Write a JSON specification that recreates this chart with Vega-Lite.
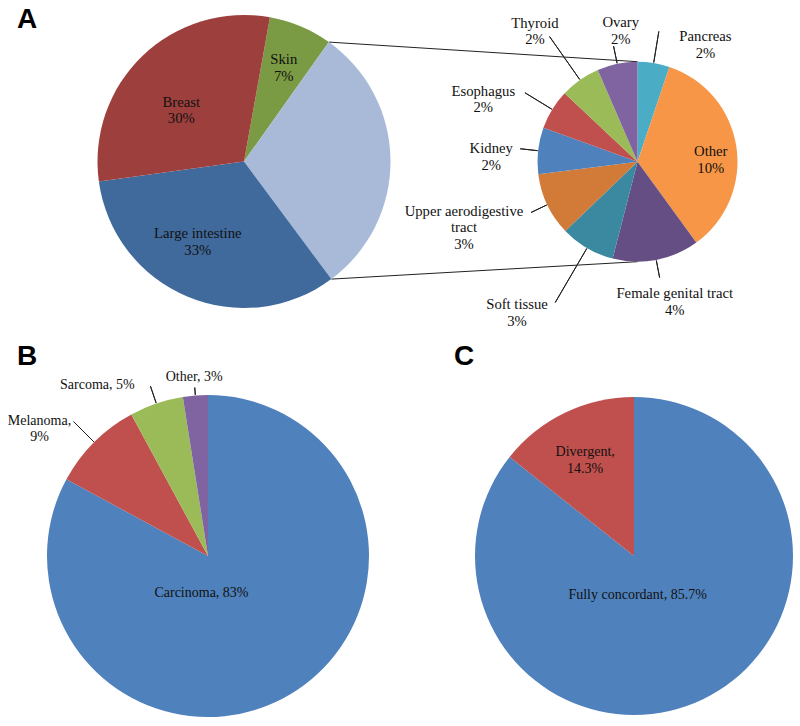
{
  "$schema": "https://vega.github.io/schema/vega-lite/v6.json",
  "padding": 0,
  "autosize": {"type": "pad"},
  "background": "white",
  "config": {"view": {"stroke": null}},
  "bounds": "flush",
  "spacing": 0,
  "vconcat": [
    {
      "width": 800,
      "height": 386,
      "resolve": {"scale": {"x": "independent", "y": "independent", "theta": "independent", "color": "independent"}},
      "layer": [
        {
          "data": {"values": [{}]},
          "mark": {"type": "rule", "color": "#222222", "strokeWidth": 1},
          "encoding": {
            "x": {"datum": 328.9, "type": "quantitative", "scale": {"domain": [0, 800], "nice": false, "zero": false}, "axis": null},
            "y": {"datum": 42.1, "type": "quantitative", "scale": {"domain": [0, 386], "nice": false, "zero": false, "reverse": true}, "axis": null},
            "x2": {"datum": 637.5},
            "y2": {"datum": 61.7}
          }
        },
        {
          "data": {"values": [{}]},
          "mark": {"type": "rule", "color": "#222222", "strokeWidth": 1},
          "encoding": {
            "x": {"datum": 331.3, "type": "quantitative", "scale": {"domain": [0, 800], "nice": false, "zero": false}, "axis": null},
            "y": {"datum": 279.1, "type": "quantitative", "scale": {"domain": [0, 386], "nice": false, "zero": false, "reverse": true}, "axis": null},
            "x2": {"datum": 637.5},
            "y2": {"datum": 261.7}
          }
        },
        {
          "data": {"values": [{}]},
          "mark": {"type": "text", "text": "A", "font": "Liberation Sans", "fontWeight": "bold", "fontSize": 28, "align": "left", "baseline": "alphabetic", "color": "#000000"},
          "encoding": {
            "x": {"datum": 17, "type": "quantitative", "scale": {"domain": [0, 800], "nice": false, "zero": false}, "axis": null},
            "y": {"datum": 28, "type": "quantitative", "scale": {"domain": [0, 386], "nice": false, "zero": false, "reverse": true}, "axis": null}
          }
        },
        {
          "data": {"values": [{}]},
          "mark": {"type": "text", "text": "B", "font": "Liberation Sans", "fontWeight": "bold", "fontSize": 28, "align": "left", "baseline": "alphabetic", "color": "#000000"},
          "encoding": {
            "x": {"datum": 17, "type": "quantitative", "scale": {"domain": [0, 800], "nice": false, "zero": false}, "axis": null},
            "y": {"datum": 364.5, "type": "quantitative", "scale": {"domain": [0, 386], "nice": false, "zero": false, "reverse": true}, "axis": null}
          }
        },
        {
          "data": {"values": [{}]},
          "mark": {"type": "text", "text": "C", "font": "Liberation Sans", "fontWeight": "bold", "fontSize": 28, "align": "left", "baseline": "alphabetic", "color": "#000000"},
          "encoding": {
            "x": {"datum": 454, "type": "quantitative", "scale": {"domain": [0, 800], "nice": false, "zero": false}, "axis": null},
            "y": {"datum": 365, "type": "quantitative", "scale": {"domain": [0, 386], "nice": false, "zero": false, "reverse": true}, "axis": null}
          }
        },
        {
          "data": {"values": [
            {"site": "Skin", "pct": 7, "label": "Skin\n7%", "ord": 1},
            {"site": "Other sites", "pct": 30, "label": "", "ord": 2},
            {"site": "Large intestine", "pct": 33, "label": "Large intestine\n33%", "ord": 3},
            {"site": "Breast", "pct": 30, "label": "Breast\n30%", "ord": 4}
          ]},
          "encoding": {
            "x": {"datum": "primary", "type": "nominal", "scale": {"type": "point", "domain": ["primary", "secondary"], "range": [244, 637.5], "padding": 0}, "axis": null},
            "y": {"datum": "primary", "type": "nominal", "scale": {"type": "point", "domain": ["primary", "secondary"], "range": [161.5, 161.7], "padding": 0}, "axis": null},
            "theta": {"field": "pct", "type": "quantitative", "stack": true, "scale": {"domain": [0, 100], "range": [0.17802, 6.46121]}},
            "order": {"field": "ord", "type": "quantitative"}
          },
          "layer": [
            {
              "mark": {"type": "arc", "outerRadius": 146.5},
              "encoding": {"color": {"field": "site", "type": "nominal", "scale": {"domain": ["Skin", "Other sites", "Large intestine", "Breast"], "range": ["#7A9A44", "#A9BAD9", "#40699C", "#9D403D"]}, "legend": null}}
            },
            {
              "mark": {"type": "text", "clip": true, "font": "Liberation Serif", "fontSize": 14.7, "lineBreak": "\n", "lineHeight": 16.6, "align": "center", "baseline": "middle", "color": "#111111", "radius": 109, "thetaOffset": -0.0244},
              "encoding": {"text": {"condition": {"test": "datum.site === 'Skin'", "field": "label", "type": "nominal"}, "value": ""}}
            },
            {
              "mark": {"type": "text", "clip": true, "font": "Liberation Serif", "fontSize": 14.7, "lineBreak": "\n", "lineHeight": 16.6, "align": "center", "baseline": "middle", "color": "#111111", "radius": 86, "thetaOffset": 0.1693},
              "encoding": {"text": {"condition": {"test": "datum.site === 'Large intestine'", "field": "label", "type": "nominal"}, "value": ""}}
            },
            {
              "mark": {"type": "text", "clip": true, "font": "Liberation Serif", "fontSize": 14.7, "lineBreak": "\n", "lineHeight": 16.6, "align": "center", "baseline": "middle", "color": "#111111", "radius": 86, "thetaOffset": -0.0524},
              "encoding": {"text": {"condition": {"test": "datum.site === 'Breast'", "field": "label", "type": "nominal"}, "value": ""}}
            }
          ]
        },
        {
          "data": {"values": [
            {"site": "Pancreas", "pct": 1.55, "label": "Pancreas\n2%", "ord": 1},
            {"site": "Other", "pct": 10.45, "label": "Other\n10%", "ord": 2},
            {"site": "Female genital tract", "pct": 4.2, "label": "Female genital tract\n4%", "ord": 3},
            {"site": "Soft tissue", "pct": 2.65, "label": "Soft tissue\n3%", "ord": 4},
            {"site": "Upper aerodigestive tract", "pct": 3.05, "label": "Upper aerodigestive\ntract\n3%", "ord": 5},
            {"site": "Kidney", "pct": 2.25, "label": "Kidney\n2%", "ord": 6},
            {"site": "Esophagus", "pct": 1.95, "label": "Esophagus\n2%", "ord": 7},
            {"site": "Thyroid", "pct": 1.95, "label": "Thyroid\n2%", "ord": 8},
            {"site": "Ovary", "pct": 1.95, "label": "Ovary\n2%", "ord": 9}
          ]},
          "encoding": {
            "x": {"datum": "secondary", "type": "nominal", "scale": {"type": "point", "domain": ["primary", "secondary"], "range": [244, 637.5], "padding": 0}, "axis": null},
            "y": {"datum": "secondary", "type": "nominal", "scale": {"type": "point", "domain": ["primary", "secondary"], "range": [161.5, 161.7], "padding": 0}, "axis": null},
            "theta": {"field": "pct", "type": "quantitative", "stack": true, "scale": {"domain": [0, 30], "range": [0, 6.28319]}},
            "order": {"field": "ord", "type": "quantitative"}
          },
          "layer": [
            {
              "mark": {"type": "arc", "outerRadius": 100},
              "encoding": {"color": {"field": "site", "type": "nominal", "scale": {"domain": ["Pancreas", "Other", "Female genital tract", "Soft tissue", "Upper aerodigestive tract", "Kidney", "Esophagus", "Thyroid", "Ovary"], "range": ["#4BACC6", "#F79646", "#654E84", "#3A89A0", "#D27A38", "#4F81BD", "#C0504D", "#9BBB59", "#8064A2"]}, "legend": null}}
            },
            {
              "mark": {"type": "arc", "clip": true, "innerRadius": 100.5, "outerRadius": 118, "padAngle": 3, "fillOpacity": 0, "stroke": "#222222", "strokeWidth": 1},
              "encoding": {"strokeOpacity": {"condition": {"test": "indexof(['Ovary','Kidney','Upper aerodigestive tract','Female genital tract'], datum.site) >= 0", "value": 1}, "value": 0}}
            },
            {
              "mark": {"type": "arc", "clip": true, "innerRadius": 100.5, "outerRadius": 132, "padAngle": 3, "fillOpacity": 0, "stroke": "#222222", "strokeWidth": 1},
              "encoding": {"strokeOpacity": {"condition": {"test": "indexof(['Pancreas','Esophagus'], datum.site) >= 0", "value": 1}, "value": 0}}
            },
            {
              "mark": {"type": "arc", "clip": true, "innerRadius": 100.5, "outerRadius": 153, "padAngle": 3, "fillOpacity": 0, "stroke": "#222222", "strokeWidth": 1},
              "encoding": {"strokeOpacity": {"condition": {"test": "datum.site === 'Thyroid'", "value": 1}, "value": 0}}
            },
            {
              "mark": {"type": "arc", "clip": true, "innerRadius": 100.5, "outerRadius": 163, "padAngle": 3, "fillOpacity": 0, "stroke": "#222222", "strokeWidth": 1},
              "encoding": {"strokeOpacity": {"condition": {"test": "datum.site === 'Soft tissue'", "value": 1}, "value": 0}}
            },
            {
              "mark": {"type": "text", "clip": true, "font": "Liberation Serif", "fontSize": 14.7, "lineBreak": "\n", "lineHeight": 16.6, "align": "center", "baseline": "middle", "color": "#111111", "radius": 142, "thetaOffset": 0.3368},
              "encoding": {"text": {"condition": {"test": "datum.site === 'Pancreas'", "field": "label", "type": "nominal"}, "value": ""}}
            },
            {
              "mark": {"type": "text", "clip": true, "font": "Liberation Serif", "fontSize": 14.7, "lineBreak": "\n", "lineHeight": 16.6, "align": "center", "baseline": "middle", "color": "#111111", "radius": 73.9, "thetaOffset": 0.0209},
              "encoding": {"text": {"condition": {"test": "datum.site === 'Other'", "field": "label", "type": "nominal"}, "value": ""}}
            },
            {
              "mark": {"type": "text", "clip": true, "font": "Liberation Serif", "fontSize": 14.7, "lineBreak": "\n", "lineHeight": 16.6, "align": "center", "baseline": "middle", "color": "#111111", "radius": 137.7, "thetaOffset": -0.0855},
              "encoding": {"text": {"condition": {"test": "datum.site === 'Female genital tract'", "field": "label", "type": "nominal"}, "value": ""}}
            },
            {
              "mark": {"type": "text", "clip": true, "font": "Liberation Serif", "fontSize": 14.7, "lineBreak": "\n", "lineHeight": 16.6, "align": "center", "baseline": "middle", "color": "#111111", "radius": 187.2, "thetaOffset": 0.1703},
              "encoding": {"text": {"condition": {"test": "datum.site === 'Soft tissue'", "field": "label", "type": "nominal"}, "value": ""}}
            },
            {
              "mark": {"type": "text", "clip": true, "font": "Liberation Serif", "fontSize": 14.7, "lineBreak": "\n", "lineHeight": 16.6, "align": "center", "baseline": "middle", "color": "#111111", "radius": 180.6, "thetaOffset": 0.1641},
              "encoding": {"text": {"condition": {"test": "datum.site === 'Upper aerodigestive tract'", "field": "label", "type": "nominal"}, "value": ""}}
            },
            {
              "mark": {"type": "text", "clip": true, "font": "Liberation Serif", "fontSize": 14.7, "lineBreak": "\n", "lineHeight": 16.6, "align": "center", "baseline": "middle", "color": "#111111", "radius": 146.8, "thetaOffset": -0.0244},
              "encoding": {"text": {"condition": {"test": "datum.site === 'Kidney'", "field": "label", "type": "nominal"}, "value": ""}}
            },
            {
              "mark": {"type": "text", "clip": true, "font": "Liberation Serif", "fontSize": 14.7, "lineBreak": "\n", "lineHeight": 16.6, "align": "center", "baseline": "middle", "color": "#111111", "radius": 169.3, "thetaOffset": -0.1239},
              "encoding": {"text": {"condition": {"test": "datum.site === 'Esophagus'", "field": "label", "type": "nominal"}, "value": ""}}
            },
            {
              "mark": {"type": "text", "clip": true, "font": "Liberation Serif", "fontSize": 14.7, "lineBreak": "\n", "lineHeight": 16.6, "align": "center", "baseline": "middle", "color": "#111111", "radius": 172, "thetaOffset": -0.0262},
              "encoding": {"text": {"condition": {"test": "datum.site === 'Thyroid'", "field": "label", "type": "nominal"}, "value": ""}}
            },
            {
              "mark": {"type": "text", "clip": true, "font": "Liberation Serif", "fontSize": 14.7, "lineBreak": "\n", "lineHeight": 16.6, "align": "center", "baseline": "middle", "color": "#111111", "radius": 139.4, "thetaOffset": 0.0838},
              "encoding": {"text": {"condition": {"test": "datum.site === 'Ovary'", "field": "label", "type": "nominal"}, "value": ""}}
            }
          ]
        }
      ]
    },
    {
      "hconcat": [
        {
          "width": 416,
          "height": 340,
          "data": {"values": [
            {"category": "Carcinoma", "pct": 82.9, "label": "Carcinoma, 83%", "ord": 1},
            {"category": "Melanoma", "pct": 9.2, "label": "Melanoma,\n9%", "ord": 2},
            {"category": "Sarcoma", "pct": 5.4, "label": "Sarcoma, 5%", "ord": 3},
            {"category": "Other", "pct": 2.5, "label": "Other, 3%", "ord": 4}
          ]},
          "encoding": {
            "theta": {"field": "pct", "type": "quantitative", "stack": true, "scale": {"domain": [0, 100], "range": [0, 6.28319]}},
            "order": {"field": "ord", "type": "quantitative"}
          },
          "layer": [
            {
              "mark": {"type": "arc", "outerRadius": 161},
              "encoding": {"color": {"field": "category", "type": "nominal", "scale": {"domain": ["Carcinoma", "Melanoma", "Sarcoma", "Other"], "range": ["#4F81BD", "#C0504D", "#9BBB59", "#8064A2"]}, "legend": null}}
            },
            {
              "mark": {"type": "arc", "clip": true, "innerRadius": 161.5, "outerRadius": 169, "padAngle": 3, "fillOpacity": 0, "stroke": "#222222", "strokeWidth": 1},
              "encoding": {"strokeOpacity": {"condition": {"test": "datum.category === 'Other'", "value": 1}, "value": 0}}
            },
            {
              "mark": {"type": "arc", "clip": true, "innerRadius": 161.5, "outerRadius": 179.5, "padAngle": 3, "fillOpacity": 0, "stroke": "#222222", "strokeWidth": 1},
              "encoding": {"strokeOpacity": {"condition": {"test": "datum.category === 'Sarcoma'", "value": 1}, "value": 0}}
            },
            {
              "mark": {"type": "arc", "clip": true, "innerRadius": 161.5, "outerRadius": 190, "padAngle": 3, "fillOpacity": 0, "stroke": "#222222", "strokeWidth": 1},
              "encoding": {"strokeOpacity": {"condition": {"test": "datum.category === 'Melanoma'", "value": 1}, "value": 0}}
            },
            {
              "mark": {"type": "text", "font": "Liberation Serif", "fontSize": 14, "lineBreak": "\n", "lineHeight": 16.6, "align": "center", "baseline": "middle", "color": "#111111", "radius": 37.6, "thetaOffset": 0.7117},
              "encoding": {"text": {"condition": {"test": "datum.category === 'Carcinoma'", "field": "label", "type": "nominal"}, "value": ""}}
            },
            {
              "mark": {"type": "text", "clip": true, "font": "Liberation Serif", "fontSize": 14, "lineBreak": "\n", "lineHeight": 16.6, "align": "center", "baseline": "middle", "color": "#111111", "radius": 216.1, "thetaOffset": -0.1091},
              "encoding": {"text": {"condition": {"test": "datum.category === 'Melanoma'", "field": "label", "type": "nominal"}, "value": ""}}
            },
            {
              "mark": {"type": "text", "font": "Liberation Serif", "fontSize": 14, "lineBreak": "\n", "lineHeight": 16.6, "align": "center", "baseline": "middle", "color": "#111111", "radius": 203.6, "thetaOffset": -0.2475},
              "encoding": {"text": {"condition": {"test": "datum.category === 'Sarcoma'", "field": "label", "type": "nominal"}, "value": ""}}
            },
            {
              "mark": {"type": "text", "font": "Liberation Serif", "fontSize": 14, "lineBreak": "\n", "lineHeight": 16.6, "align": "center", "baseline": "middle", "color": "#111111", "radius": 179.2, "thetaOffset": 0.0017},
              "encoding": {"text": {"condition": {"test": "datum.category === 'Other'", "field": "label", "type": "nominal"}, "value": ""}}
            }
          ]
        },
        {
          "width": 332,
          "height": 340,
          "data": {"values": [
            {"category": "Fully concordant", "pct": 85.7, "label": "Fully concordant, 85.7%", "ord": 1},
            {"category": "Divergent", "pct": 14.3, "label": "Divergent,\n14.3%", "ord": 2}
          ]},
          "encoding": {
            "theta": {"field": "pct", "type": "quantitative", "stack": true, "scale": {"domain": [0, 100], "range": [0, 6.28319]}},
            "order": {"field": "ord", "type": "quantitative"}
          },
          "layer": [
            {
              "mark": {"type": "arc", "outerRadius": 159},
              "encoding": {"color": {"field": "category", "type": "nominal", "scale": {"domain": ["Fully concordant", "Divergent"], "range": ["#4F81BD", "#C0504D"]}, "legend": null}}
            },
            {
              "mark": {"type": "text", "font": "Liberation Serif", "fontSize": 14, "lineBreak": "\n", "lineHeight": 16.6, "align": "center", "baseline": "middle", "color": "#111111", "radius": 39, "thetaOffset": 0.3567},
              "encoding": {"text": {"condition": {"test": "datum.category === 'Fully concordant'", "field": "label", "type": "nominal"}, "value": ""}}
            },
            {
              "mark": {"type": "text", "font": "Liberation Serif", "fontSize": 14, "lineBreak": "\n", "lineHeight": 16.6, "align": "center", "baseline": "middle", "color": "#111111", "radius": 114.5, "thetaOffset": 0.0086},
              "encoding": {"text": {"condition": {"test": "datum.category === 'Divergent'", "field": "label", "type": "nominal"}, "value": ""}}
            }
          ]
        }
      ],
      "spacing": 52,
      "bounds": "flush"
    }
  ]
}
